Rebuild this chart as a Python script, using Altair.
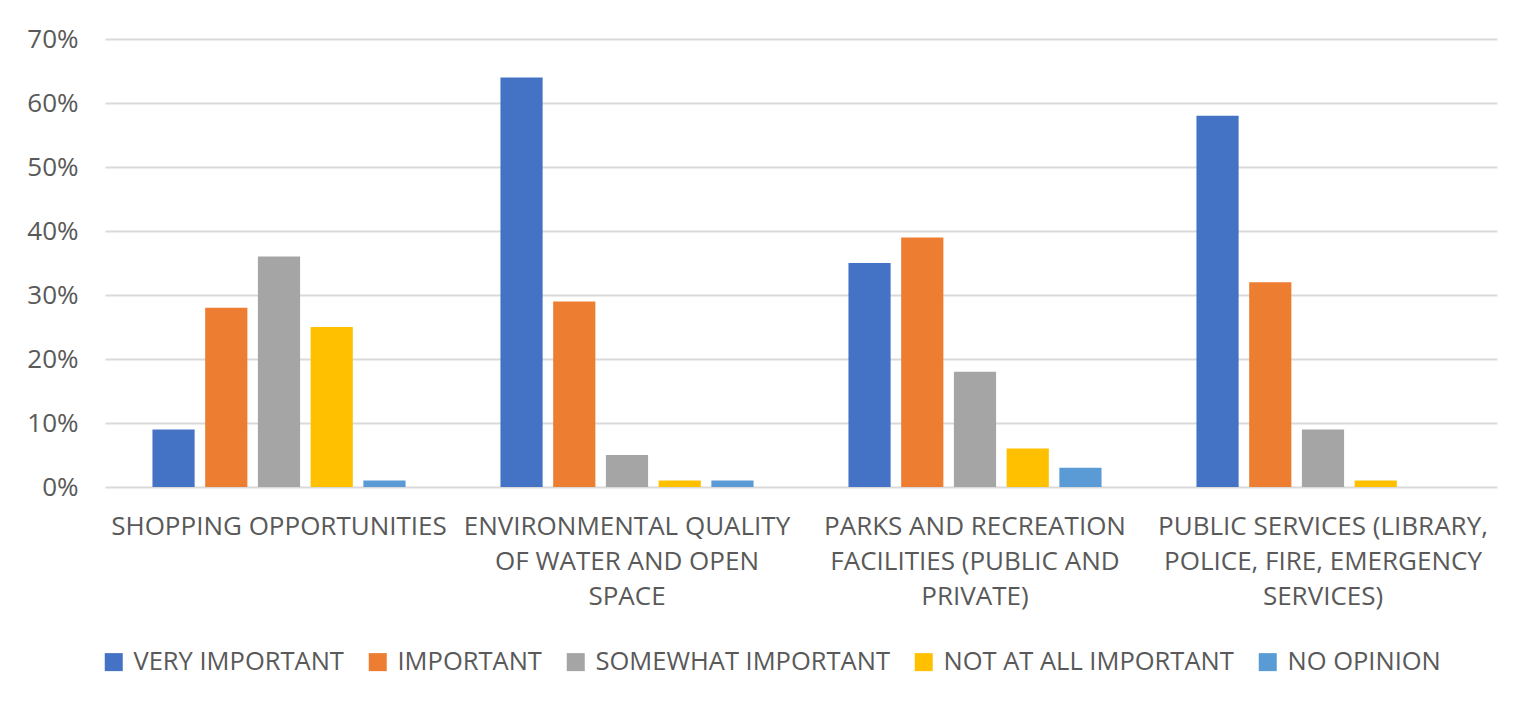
import altair as alt
import pandas as pd

categories = [
    "SHOPPING OPPORTUNITIES",
    "ENVIRONMENTAL QUALITY OF WATER AND OPEN SPACE",
    "PARKS AND RECREATION FACILITIES (PUBLIC AND PRIVATE)",
    "PUBLIC SERVICES (LIBRARY, POLICE, FIRE, EMERGENCY SERVICES)",
]
label_lines = [
    ["SHOPPING OPPORTUNITIES"],
    ["ENVIRONMENTAL QUALITY", "OF WATER AND OPEN", "SPACE"],
    ["PARKS AND RECREATION", "FACILITIES (PUBLIC AND", "PRIVATE)"],
    ["PUBLIC SERVICES (LIBRARY,", "POLICE, FIRE, EMERGENCY", "SERVICES)"],
]
series = ["VERY IMPORTANT", "IMPORTANT", "SOMEWHAT IMPORTANT", "NOT AT ALL IMPORTANT", "NO OPINION"]
colors = ["#4472C4", "#ED7D31", "#A5A5A5", "#FFC000", "#5B9BD5"]

very_important = [0.09, 0.64, 0.35, 0.58]
important = [0.28, 0.29, 0.39, 0.32]
somewhat_important = [0.36, 0.05, 0.18, 0.09]
not_at_all_important = [0.25, 0.01, 0.06, 0.01]
no_opinion = [0.01, 0.01, 0.03, 0.0]

values = [very_important, important, somewhat_important, not_at_all_important, no_opinion]
rows = []
for s, vals in zip(series, values):
    for c, v in zip(categories, vals):
        rows.append({"category": c, "series": s, "value": v})
df = pd.DataFrame(rows)

mapping = ", ".join(
    "'" + c + "': [" + ", ".join("'" + l + "'" for l in lines) + "]"
    for c, lines in zip(categories, label_lines)
)
label_expr = "{" + mapping + "}[datum.label]"

FONT = "Open Sans"
TXT = "#595959"

chart = alt.Chart(df).mark_bar().encode(
    x=alt.X(
        "category:N",
        sort=categories,
        scale=alt.Scale(paddingInner=0, paddingOuter=0),
        axis=alt.Axis(
            title=None,
            labelAngle=0,
            labelExpr=label_expr,
            labelLimit=0,
            labelFontSize=26,
            labelLineHeight=35,
            labelPadding=26,
            labelColor=TXT,
            labelFont=FONT,
            domain=False,
            ticks=False,
            grid=False,
        ),
    ),
    xOffset=alt.XOffset(
        "series:N",
        sort=series,
        scale=alt.Scale(paddingInner=0.2, paddingOuter=0.9),
    ),
    y=alt.Y(
        "value:Q",
        scale=alt.Scale(domain=[0, 0.7]),
        axis=alt.Axis(
            title=None,
            format=".0%",
            values=[0, 0.1, 0.2, 0.3, 0.4, 0.5, 0.6, 0.7],
            labelFontSize=26,
            labelColor=TXT,
            labelFont=FONT,
            labelPadding=27,
            domain=False,
            ticks=False,
            gridColor="#D9D9D9",
            gridWidth=2,
        ),
    ),
    color=alt.Color(
        "series:N",
        sort=series,
        scale=alt.Scale(domain=series, range=colors),
        legend=alt.Legend(
            title=None,
            orient="none",
            direction="horizontal",
            legendX=-4,
            legendY=610,
            symbolType="square",
            symbolSize=324,
            symbolStrokeWidth=0,
            labelFontSize=25.5,
            labelColor=TXT,
            labelFont=FONT,
            labelOffset=7,
            columnPadding=21,
            labelLimit=0,
        ),
    ),
).properties(
    width=1392,
    height=448,
    background="white",
    autosize=alt.AutoSizeParams(type="none"),
    padding={"left": 97, "top": 31, "right": 23, "bottom": 214},
).configure_view(stroke=None, strokeWidth=0)

chart.save("out.html", embed_options={"renderer": "svg", "actions": False})
